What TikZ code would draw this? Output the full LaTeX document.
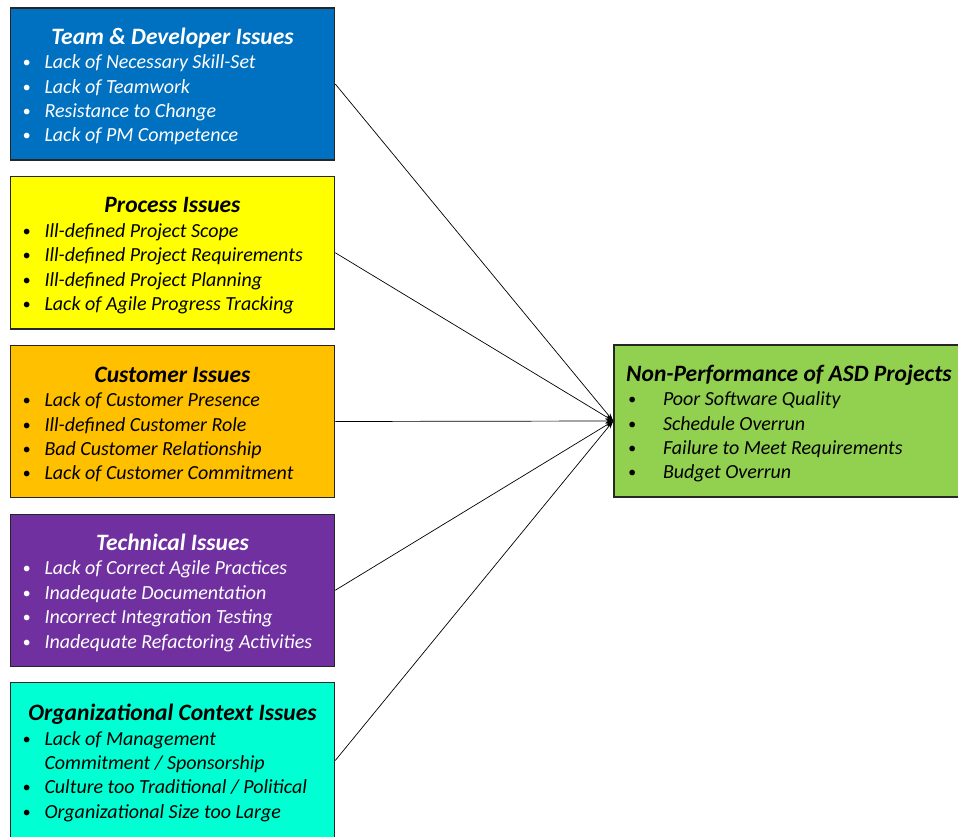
\documentclass[tikz,border=0pt]{standalone}
\usepackage{fontspec}
\setmainfont{Carlito}
\usetikzlibrary{arrows.meta,positioning}

\definecolor{teamblue}{HTML}{0070C0}
\definecolor{procyellow}{HTML}{FFFF00}
\definecolor{custorange}{HTML}{FFC000}
\definecolor{techpurple}{HTML}{7030A0}
\definecolor{orgteal}{HTML}{00FFD2}
\definecolor{perfgreen}{HTML}{92D050}

\newlength{\itemw}
\newlength{\bulw}
\newcommand{\bitem}[1]{\makebox[\itemw][l]{\makebox[\bulw][l]{\raisebox{1pt}{\scalebox{0.8}{\textbullet}}}#1}}
\newcommand{\bmore}[1]{\makebox[\itemw][l]{\hspace{\bulw}#1}}
\newcommand{\btitle}[1]{{\fontsize{23.5}{26}\selectfont\bfseries\rule{0pt}{21.5pt}#1}\\[0pt]}

\begin{document}
\begin{tikzpicture}[x=1pt,y=-1pt,>={Stealth[length=8pt,width=5pt]},node distance=168.75pt,
  issue node/.style={draw=black!85,line width=1.5pt,minimum width=324pt,minimum height=152pt,
    inner sep=0pt,align=center,font=\fontsize{20}{24.4}\selectfont\itshape,
    execute at begin node={\setlength{\itemw}{300pt}\setlength{\bulw}{22pt}}},
  team node/.style={issue node,fill=teamblue,text=white},
  proc node/.style={issue node,fill=procyellow},
  cust node/.style={issue node,fill=custorange},
  tech node/.style={issue node,fill=techpurple,text=white},
  org node/.style={issue node,fill=orgteal,minimum height=156pt},
  result node/.style={issue node,fill=perfgreen,minimum width=350pt,
    execute at begin node={\setlength{\itemw}{322pt}\setlength{\bulw}{35pt}}}]
  \useasboundingbox (0,0) rectangle (958,837);
  \clip (0,0) rectangle (958,837);

  \node[team node] (team) at (172.5,84) {\btitle{Team \& Developer Issues}
    \bitem{Lack of Necessary Skill-Set}\\ \bitem{Lack of Teamwork}\\
    \bitem{Resistance to Change}\\ \bitem{Lack of PM Competence}};
  \node[proc node] (proc) [below of=team] {\btitle{Process Issues}
    \bitem{Ill-defined Project Scope}\\ \bitem{Ill-defined Project Requirements}\\
    \bitem{Ill-defined Project Planning}\\ \bitem{Lack of Agile Progress Tracking}};
  \node[cust node] (cust) [below of=proc] {\btitle{Customer Issues}
    \bitem{Lack of Customer Presence}\\ \bitem{Ill-defined Customer Role}\\
    \bitem{Bad Customer Relationship}\\ \bitem{Lack of Customer Commitment}};
  \node[tech node] (tech) [below of=cust] {\btitle{Technical Issues}
    \bitem{Lack of Correct Agile Practices}\\ \bitem{Inadequate Documentation}\\
    \bitem{Incorrect Integration Testing}\\ \bitem{Inadequate Refactoring Activities}};
  \node[org node] (org) [below of=tech,yshift=-1.5pt] {\btitle{Organizational Context Issues}
    \bitem{Lack of Management}\\ \bmore{Commitment / Sponsorship}\\
    \bitem{Culture too Traditional / Political}\\ \bitem{Organizational Size too Large}};

  \node[result node] (perf) at (789,421) {\btitle{Non-Performance of ASD Projects}
    \bitem{Poor Software Quality}\\ \bitem{Schedule Overrun}\\
    \bitem{Failure to Meet Requirements}\\ \bitem{Budget Overrun}};

  \path[->,line width=0.7pt]
    (team.east) edge (perf.west)
    (proc.east) edge (perf.west)
    (cust.east) edge (perf.west)
    (tech.east) edge (perf.west)
    (org.east) edge (perf.west);
\end{tikzpicture}
\end{document}
